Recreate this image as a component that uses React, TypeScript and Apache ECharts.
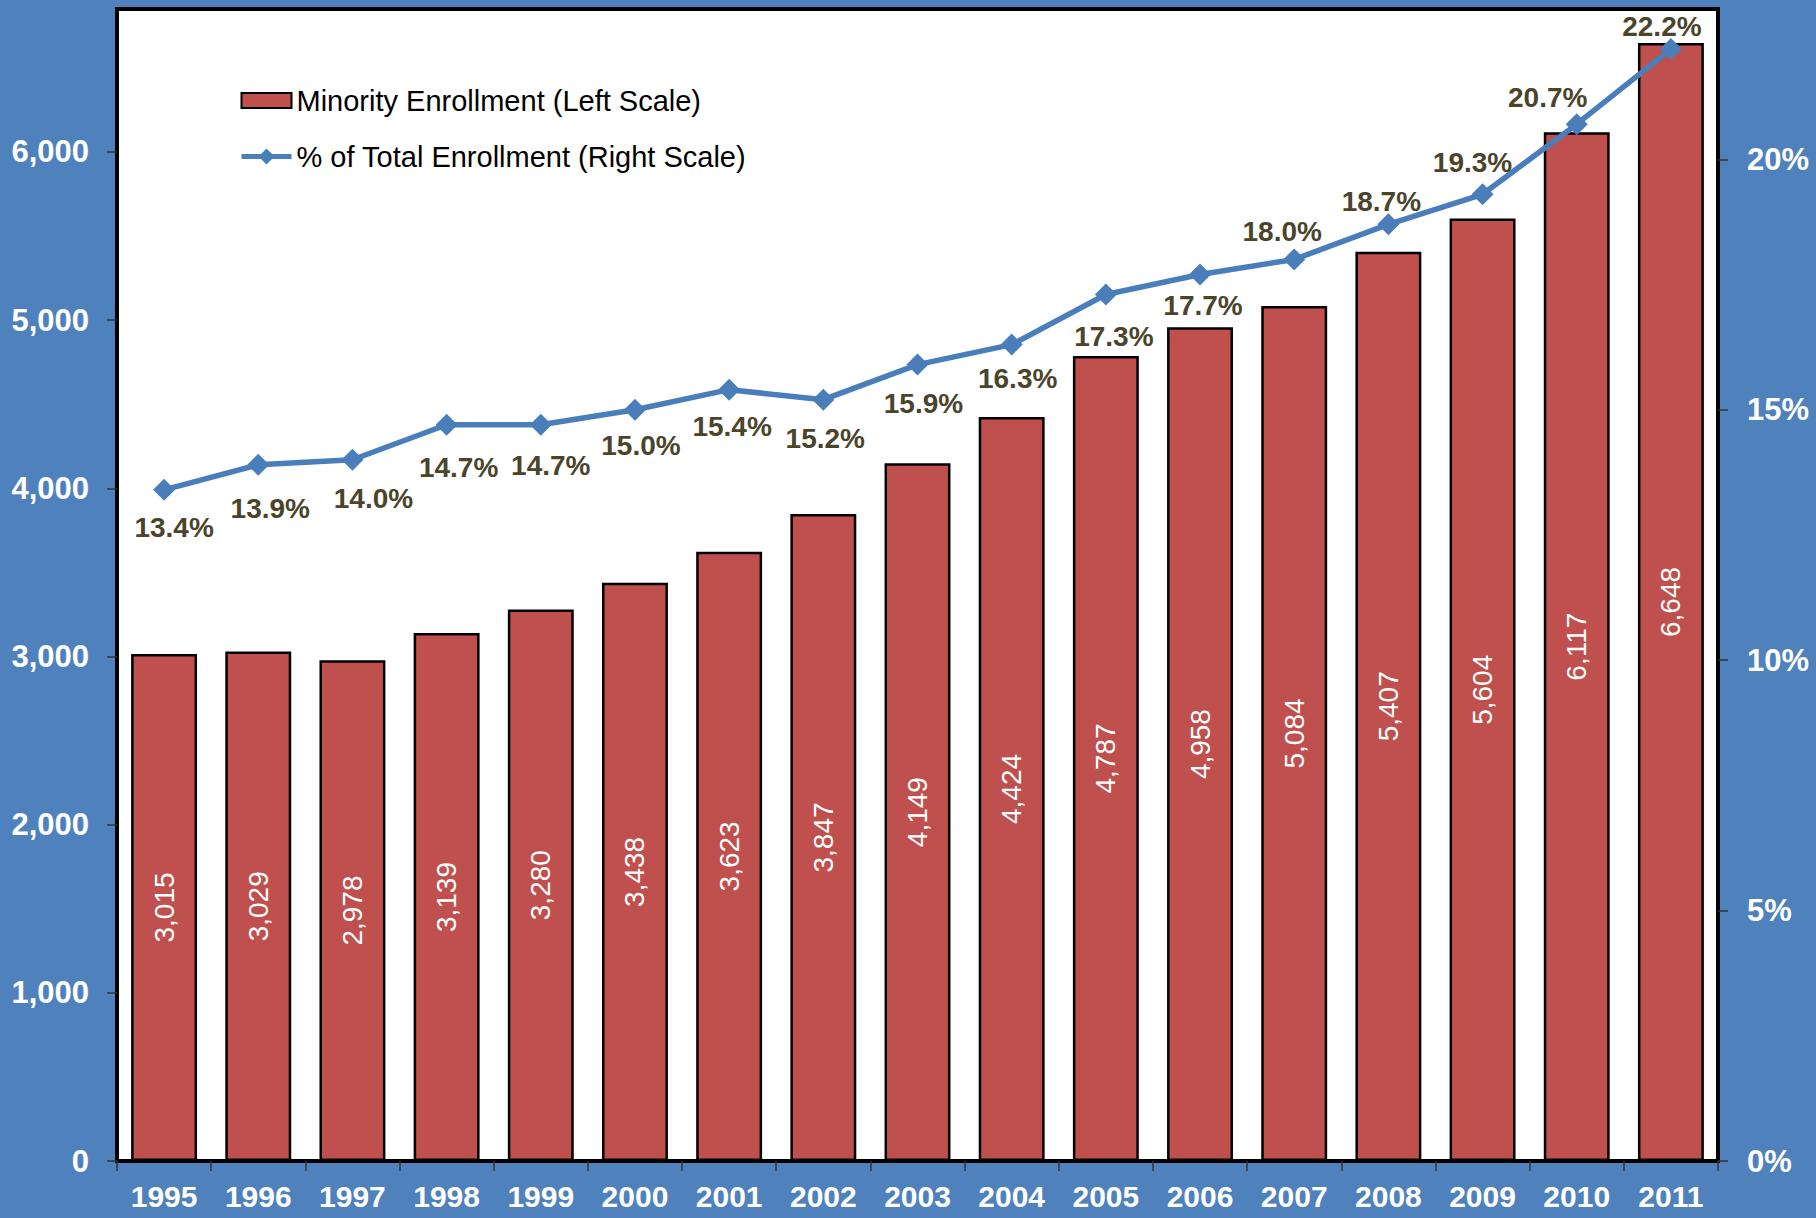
import React, { useEffect, useRef } from "react";
import * as echarts from "echarts";

const years = ["1995","1996","1997","1998","1999","2000","2001","2002","2003","2004","2005","2006","2007","2008","2009","2010","2011"];
const enrollment = [3015,3029,2978,3139,3280,3438,3623,3847,4149,4424,4787,4958,5084,5407,5604,6117,6648];
const percentOfTotal = [13.4,13.9,14.0,14.7,14.7,15.0,15.4,15.2,15.9,16.3,17.3,17.7,18.0,18.7,19.3,20.7,22.2];
const pctLabelOffsets: [number, number][] = [
  [10,38],[12,44],[21,39],[12,43],[10,41],[6,36],[3,37],[2,39],[6,39],[6,34],[8,42],[3,31],
  [-12,-28],[-7,-23],[-10,-32],[-29,-27],[-9,-23]
];
const leftTicks = [0,1000,2000,3000,4000,5000,6000];
const rightTicks = [0,5,10,15,20];

const FONT = '"Liberation Sans", Arial, sans-serif';
const BG = "#4F81BD";
const LINE = "#4A7EBB";

export default function App() {
  const ref = useRef<HTMLDivElement>(null);
  useEffect(() => {
    document.body.style.margin = "0";
    document.body.style.background = BG;
    const chart = echarts.init(ref.current!, undefined, { renderer: "svg" });
    chart.setOption({
      animation: false,
      backgroundColor: BG,
      textStyle: { fontFamily: FONT },
      legend: {
        orient: "vertical",
        left: 234,
        top: 81,
        itemWidth: 50,
        itemHeight: 20,
        itemGap: 27,
        textStyle: { fontSize: 29, color: "#000", fontFamily: FONT, lineHeight: 29 },
        data: [
          { name: "Minority Enrollment (Left Scale)", icon: "path://M0 0H50V15H0Z" },
          { name: "% of Total Enrollment (Right Scale)", lineStyle: { width: 5, color: LINE } },
        ],
        symbolKeepAspect: true,
      },
      grid: {
        left: 117, right: 98, top: 9, bottom: 57,
        show: true, backgroundColor: "#fff", borderColor: "#000", borderWidth: 4,
      },
      xAxis: {
        type: "category",
        data: years,
        boundaryGap: true,
        axisLine: { lineStyle: { color: "#000", width: 4 } },
        axisTick: { show: true, length: 10, lineStyle: { color: "#333", width: 1.5 } },
        axisLabel: { color: "#fff", fontSize: 30, fontWeight: "bold", margin: 20, fontFamily: FONT },
      },
      yAxis: [
        {
          type: "value", min: 0, max: 6850, interval: 1000,
          splitLine: { show: false },
          axisLine: { show: false },
          axisTick: { show: true, length: 10, lineStyle: { color: "#333", width: 1.5 }, customValues: leftTicks },
          axisLabel: {
            color: "#fff", fontSize: 31, fontWeight: "bold", margin: 28, fontFamily: FONT,
            customValues: leftTicks,
            formatter: (v: number) => v.toLocaleString("en-US"),
          },
        },
        {
          type: "value", min: 0, max: 23, interval: 5, position: "right",
          splitLine: { show: false },
          axisLine: { show: false },
          axisTick: { show: true, length: 10, lineStyle: { color: "#333", width: 1.5 }, customValues: rightTicks },
          axisLabel: {
            color: "#fff", fontSize: 31, fontWeight: "bold", margin: 29, fontFamily: FONT,
            customValues: rightTicks,
            formatter: (v: number) => v + "%",
          },
        },
      ],
      series: [
        {
          name: "Minority Enrollment (Left Scale)",
          type: "bar",
          yAxisIndex: 0,
          data: enrollment,
          barCategoryGap: "30%",
          itemStyle: { color: "#C0504D", borderColor: "#000", borderWidth: 2.5 },
          label: {
            show: true, position: "inside", rotate: 90, color: "#fff", fontSize: 28, fontFamily: FONT,
            formatter: (p: any) => Number(p.value).toLocaleString("en-US"),
          },
        },
        {
          name: "% of Total Enrollment (Right Scale)",
          type: "line",
          yAxisIndex: 1,
          symbol: "diamond",
          symbolSize: 22,
          lineStyle: { color: LINE, width: 5.5 },
          itemStyle: { color: LINE },
          data: percentOfTotal.map((v, i) => ({
            value: v,
            label: { offset: pctLabelOffsets[i] },
          })),
          label: {
            show: true, position: "inside", color: "#4A452A", fontSize: 28, fontWeight: "bold", fontFamily: FONT,
            formatter: (p: any) => Number(p.value).toFixed(1) + "%",
          },
        },
      ],
    });
    return () => chart.dispose();
  }, []);
  return <div ref={ref} style={{ width: 1816, height: 1218 }} />;
}
